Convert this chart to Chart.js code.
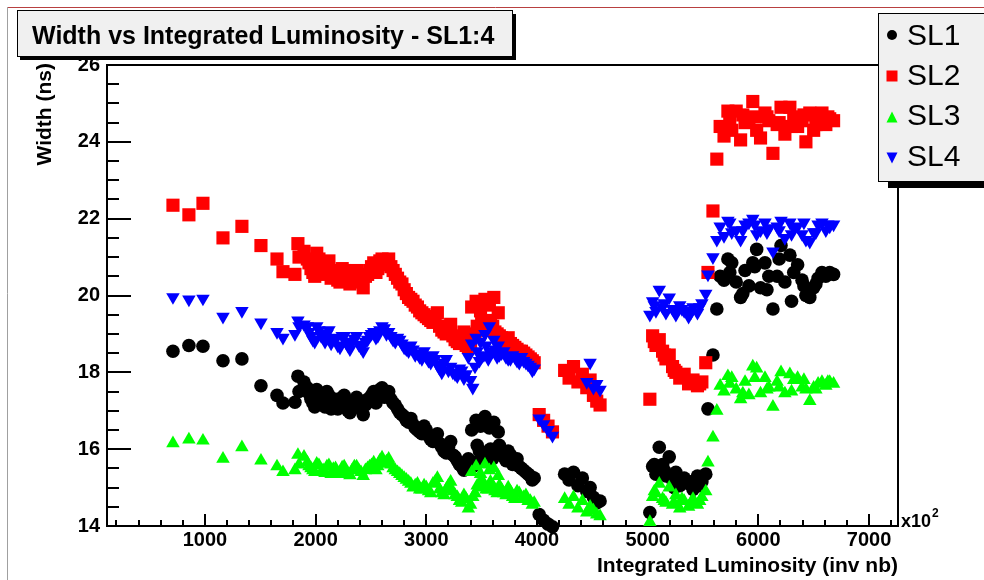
<!DOCTYPE html>
<html>
<head>
<meta charset="utf-8">
<script src="https://cdn.jsdelivr.net/npm/chart.js@4.4.1/dist/chart.umd.min.js"></script>
<style>
  html, body { margin: 0; padding: 0; background: #ffffff; }
  canvas { display: block; }
</style>
</head>
<body>
<canvas id="c" width="984" height="580"></canvas>
<script>
// Integrated luminosity of each run (axis units, x10^2 inv nb)
const lumi = [
  711, 855, 982, 1163, 1334, 1506, 1651, 1705, 1813, 1840, 1850, 1895,
  1940, 1975, 2010, 2050, 2085, 2120, 2160, 2200, 2240, 2275,
  2310, 2350, 2390, 2430, 2470, 2505, 2545, 2580, 2620, 2660,
  2700, 2740, 2780, 2820, 2860, 2900, 2940, 2980, 3020, 3060,
  3100, 3140, 3180, 3220, 3260, 3300, 3340, 3380, 3410, 3420,
  3450, 3460, 3490, 3500, 3530, 3540, 3570, 3580, 3610, 3620,
  3650, 3660, 3700, 3740, 3780, 3820, 3860, 3900, 3940, 3975,
  4020, 4060, 4100, 4140,
  4250, 4290, 4330, 4370, 4410, 4450, 4480, 4510, 4540, 4570,
  5020, 5045, 5075, 5105, 5135, 5165, 5195, 5225, 5255, 5290,
  5330, 5370, 5410, 5450, 5490, 5525,
  5545, 5590, 5625,
  5655, 5690, 5725, 5760, 5800, 5840, 5880, 5915, 5950, 5985,
  6020, 6060, 6095, 6132, 6170, 6205, 6240, 6285, 6320, 6355,
  6395, 6430, 6465, 6500, 6540, 6575, 6610, 6645, 6680,
  // second pass of runs
  1925, 1958, 1992, 2030, 2068, 2102, 2140, 2180, 2220, 2258,
  2292, 2330, 2370, 2410, 2450, 2488, 2525, 2562, 2600, 2640,
  2680, 2720, 2760, 2800, 2840, 2880, 2920, 2960, 3000, 3040,
  3080, 3120, 3160, 3200, 3240, 3280, 3320, 3360, 3400, 3440,
  3480, 3520, 3560, 3600, 3640, 3680, 3720, 3760, 3800, 3840,
  3880, 3920, 3958,
  5060, 5150, 5240, 5310, 5390, 5470,
  5742, 5860, 5968, 6078, 6188, 6300, 6412, 6520, 6628
];

// Width (ns) per superlayer, one value per run (null = off scale)
const sl1 = [
  18.55, 18.70, 18.68, 18.30, 18.35, 17.65, 17.40, 17.20, 17.22, 17.90, 17.50, 17.75,
  17.45, 17.20, 17.55, 17.30, 17.10, 17.40, 17.25, 17.05, 17.35, 17.15,
  16.95, 17.25, 17.10, 16.90, 17.30, 17.40, 17.20, 17.55, 17.35, 17.50,
  17.20, 17.05, 16.90, 16.75, 16.80, 16.55, 16.45, 16.60, 16.35, 16.20,
  16.40, 16.05, 15.90, 16.20, 15.80, 15.60, 15.45, 15.75, 16.50, 15.55,
  16.75, 16.10, 16.60, 15.90, 16.85, 15.70, 16.55, 16.00, 16.70, 15.85,
  16.45, 16.10, 15.80, 15.95, 15.60, 15.75, 15.50, 15.40, 15.30, 15.25,
  14.30, 14.15, 14.05, 13.98,
  15.35, 15.20, 15.40, 15.05, 15.25, 14.90, 15.00, 14.75, 14.60, 14.65,
  14.35, 15.55, 15.35, 16.05, 15.60, 15.30, 15.80, 15.20, 15.40, 15.05,
  15.25, 15.10, 14.95, 15.30, 15.15, 15.35,
  17.05, 18.45, 19.65,
  20.50, 20.40, 20.95, 20.85, 20.35, 19.95, 20.65, 20.25, 20.85, 21.20,
  20.20, 20.85, 20.50, 19.65, 20.50, 21.30, 20.35, 21.05, 20.60, 20.80,
  20.40, 20.00, 19.95, 20.20, 20.45, 20.60, 20.50, 20.60, 20.55,
  17.60, 17.30, 17.10, 17.45, 17.25, 17.50, 17.05, 17.30, 17.20, 17.40,
  17.00, 17.20, 17.35, 17.05, 17.15, 17.25, 17.50, 17.35, 17.60, 17.40,
  17.30, 17.15, 16.95, 16.85, 16.70, 16.65, 16.50, 16.40, 16.50, 16.25,
  16.30, 16.15, 15.95, 16.05, 15.85, 15.70, 15.55, 15.65, 15.50, 15.65,
  15.95, 15.80, 15.95, 15.75, 15.90, 15.95, 15.70, 15.85, 15.65, 15.55,
  15.45, 15.35, 15.20,
  15.60, 15.45, 15.00, 15.20, 15.15, 15.05,
  20.60, 20.05, 20.75, 20.15, 20.95, 19.85, 20.25, 20.30, 20.55
];
const sl2 = [
  22.35, 22.10, 22.40, 21.50, 21.80, 21.30, 20.95, 20.62, 20.55, 21.35, 21.00, 21.15,
  20.85, 20.60, 21.10, 20.75, 20.55, 20.90, 20.65, 20.40, 20.70, 20.50,
  20.30, 20.60, 20.45, 20.20, 20.55, 20.75, 20.60, 20.90, 20.80, 20.95,
  20.65, 20.45, 20.30, 20.05, 19.90, 19.75, 19.60, 19.50, 19.40, 19.30,
  19.55, 19.10, 19.00, 19.25, 18.85, 18.75, 19.05, 18.65, 19.70, 18.95,
  19.85, 19.20, 19.60, 19.30, 19.90, 19.10, 19.75, 19.35, 19.95, 19.05,
  19.55, 18.95, 18.85, 18.90, 18.70, 18.60, 18.55, 18.45, 18.35, 18.25,
  16.90, 16.75, 16.60, 16.45,
  18.05, 17.85, 18.15, 17.75, 17.95, 17.60, 17.80, 17.40, 17.25, 17.15,
  17.30, 18.95, 18.70, 18.85, 18.55, 18.35, 18.45, 18.15, 18.00, 17.85,
  17.95, 17.70, 17.80, 17.65, 17.75, 18.25,
  20.60, 22.20, 23.55,
  24.40, 24.15, 24.80, 24.30, 24.80, 24.05, 24.50, 24.60, 25.05, 24.30,
  24.10, 24.75, 24.55, 23.70, 24.45, 24.90, 24.20, 24.90, 24.65, 24.40,
  24.55, 24.00, 24.75, 24.30, 24.60, 24.75, 24.45, 24.60, 24.55,
  20.95, 20.70, 20.50, 20.95, 20.70, 20.80, 20.45, 20.55, 20.35, 20.65,
  20.40, 20.55, 20.65, 20.35, 20.50, 20.65, 20.85, 20.70, 20.95, 20.85,
  20.75, 20.55, 20.35, 20.15, 19.95, 19.85, 19.70, 19.55, 19.45, 19.35,
  19.45, 19.20, 19.05, 19.15, 18.95, 18.80, 18.90, 18.70, 18.80, 19.00,
  19.15, 19.25, 19.10, 19.20, 19.00, 18.90, 18.80, 18.75, 18.65, 18.55,
  18.50, 18.40, 18.30,
  18.80, 18.45, 18.05, 17.90, 17.75, 17.70,
  24.55, 24.70, 24.65, 24.65, 24.50, 24.40, 24.70, 24.45, 24.65
];
const sl3 = [
  16.15, 16.25, 16.22, 15.75, 16.05, 15.70, 15.55, 15.40, 15.45, 15.85, 15.60, 15.80,
  15.55, 15.45, 15.62, 15.40, 15.38, 15.58, 15.48, 15.35, 15.52, 15.42,
  15.32, 15.55, 15.45, 15.30, 15.50, 15.58, 15.45, 15.70, 15.62, 15.75,
  15.50, 15.40, 15.30, 15.20, 15.10, 15.05, 14.95, 15.05, 14.90, 15.10,
  15.25, 14.85, 14.95, 15.15, 14.80, 14.65, 14.80, 14.45, 15.40, 14.75,
  15.55, 15.05, 15.35, 15.20, 15.60, 14.95, 15.45, 15.15, 15.50, 14.90,
  15.30, 15.05, 14.85, 15.00, 14.75, 14.90, 14.70, 14.80, 14.65, 14.60,
  null, null, null, null,
  14.70, 14.55, 14.75, 14.45, 14.65, 14.35, 14.50, 14.40, 14.30, 14.25,
  14.10, 14.75, 14.85, 15.10, 14.70, 14.60, 15.00, 14.55, 14.80, 14.45,
  14.65, 14.50, 14.70, 14.55, 14.75, 14.90,
  15.65, 16.30, 17.00,
  17.65, 17.50, 17.90, 17.85, 17.55, 17.30, 17.75, 17.40, 18.15, 18.10,
  17.45, 17.85, 17.60, 17.10, 17.75, 18.00, 17.45, 17.95, 17.80, 17.85,
  17.60, 17.55, 17.25, 17.60, 17.70, 17.75, 17.65, 17.75, 17.70,
  15.65, 15.50, 15.40, 15.58, 15.45, 15.55, 15.35, 15.50, 15.40, 15.55,
  15.35, 15.45, 15.55, 15.40, 15.45, 15.55, 15.65, 15.55, 15.78, 15.68,
  15.60, 15.45, 15.35, 15.25, 15.15, 15.00, 15.10, 14.95, 15.00, 14.85,
  15.15, 14.95, 14.80, 15.05, 14.90, 14.75, 14.60, 14.70, 14.55, 14.85,
  15.00, 15.10, 14.95, 15.05, 14.85, 14.95, 14.80, 14.90, 14.70, 14.85,
  14.75, 14.65, 14.55,
  14.90, 14.65, 14.60, 14.70, 14.60, 14.65,
  17.70, 17.45, 17.85, 17.55, 17.60, 17.50, 17.80, 17.55, 17.75
];
const sl4 = [
  19.96, 19.90, 19.92, 19.45, 19.60, 19.30, 19.05, 18.90, 19.00, 19.35, 19.20, 19.25,
  19.05, 18.85, 19.20, 18.95, 18.80, 19.10, 18.90, 18.70, 18.95, 18.78,
  18.60, 18.88, 18.72, 18.55, 18.85, 19.00, 18.90, 19.10, 19.15, 19.05,
  18.85, 18.90, 18.75, 18.60, 18.70, 18.45, 18.40, 18.55, 18.30, 18.45,
  18.20, 18.00, 18.35, 18.15, 17.95, 18.10, 17.85, 18.40, 18.75, 17.60,
  18.90, 18.55, 18.80, 18.40, 19.00, 18.70, 19.20, 18.50, 18.85, 18.60,
  18.70, 18.45, 18.55, 18.35, 18.45, 18.30, 18.40, 18.25, 18.15, 18.10,
  16.80, 16.65, 16.50, 16.35,
  null, null, null, null, null, 17.75, 18.25, 17.60, 17.70, 17.55,
  19.50, 19.85, 19.60, 20.15, 19.70, 19.55, 19.95, 19.65, 19.50, 19.75,
  19.60, 19.45, 19.70, 19.55, 19.80, 20.05,
  20.55, 21.00, 21.45,
  21.80, 21.55, 21.95, 21.65, 21.70, 21.45, 21.85, 21.90, 22.00, 21.60,
  21.70, 21.90, 21.75, 21.15, 21.80, 21.95, 21.50, 21.90, 21.75, 21.80,
  21.60, 21.45, 21.40, 21.65, 21.85, 21.90, 21.70, 21.80, 21.85,
  19.20, 18.95, 18.80, 19.10, 18.90, 19.00, 18.75, 18.85, 18.65, 18.95,
  18.70, 18.80, 18.95, 18.65, 18.80, 18.95, 19.05, 18.95, 19.20, 19.00,
  18.95, 18.80, 18.85, 18.65, 18.55, 18.60, 18.50, 18.35, 18.40, 18.25,
  18.35, 18.10, 18.25, 18.05, 18.00, 17.90, 18.05, 17.95, 17.80, 18.15,
  18.30, 18.45, 18.35, 18.55, 18.40, 18.50, 18.40, 18.35, 18.40, 18.25,
  18.30, 18.20, 18.05,
  19.75, 19.80, 19.60, 19.65, 19.55, 19.70,
  21.90, 21.70, 21.85, 21.65, 21.70, 21.60, 21.90, 21.65, 21.85
];

const seriesNames = ['SL1', 'SL2', 'SL3', 'SL4'];
const xTickValues = [1000, 2000, 3000, 4000, 5000, 6000, 7000];
const yTickValues = [14, 16, 18, 20, 22, 24, 26];

const FONT = '"Liberation Sans", Arial, Helvetica, sans-serif';

const styles = [
  { color: '#000000', pointStyle: 'circle',   radius: 6.8, rotation: 0 },
  { color: '#ff0000', pointStyle: 'rect',     radius: 9.3, rotation: 0 },
  { color: '#00ff00', pointStyle: 'triangle', radius: 7.8, rotation: 0 },
  { color: '#0000ff', pointStyle: 'triangle', radius: 7.8, rotation: 180 }
];

const seriesValues = [sl1, sl2, sl3, sl4];
const datasets = seriesValues.map((vals, k) => ({
  label: seriesNames[k],
  data: lumi.map((x, i) => ({ x: x, y: vals[i] })),
  showLine: false,
  pointStyle: styles[k].pointStyle,
  pointRotation: styles[k].rotation,
  pointRadius: styles[k].radius,
  pointHoverRadius: styles[k].radius,
  pointBackgroundColor: styles[k].color,
  pointBorderWidth: 0,
  pointBorderColor: styles[k].color,
  order: 4 - k,          // later superlayers are painted on top
  clip: false
}));

// small legend marker painter
function marker(ctx, kind, cx, cy, s, color) {
  ctx.fillStyle = color;
  ctx.beginPath();
  if (kind === 0) {
    ctx.arc(cx, cy, s / 2, 0, Math.PI * 2);
  } else if (kind === 1) {
    ctx.rect(cx - s / 2, cy - s / 2, s, s);
  } else if (kind === 2) {
    ctx.moveTo(cx, cy - s / 2);
    ctx.lineTo(cx + s / 2, cy + s / 2);
    ctx.lineTo(cx - s / 2, cy + s / 2);
  } else {
    ctx.moveTo(cx - s / 2, cy - s / 2);
    ctx.lineTo(cx + s / 2, cy - s / 2);
    ctx.lineTo(cx, cy + s / 2);
  }
  ctx.closePath();
  ctx.fill();
}

const rootFrame = {
  id: 'rootFrame',
  beforeDatasetsDraw(chart) {
    const { ctx, chartArea: a, scales } = chart;
    const xs = scales.x, ys = scales.y;
    ctx.save();
    ctx.strokeStyle = '#000';
    ctx.lineWidth = 2;
    ctx.strokeRect(a.left, a.top, a.right - a.left, a.bottom - a.top);
    ctx.beginPath();
    for (let v = 200; v <= 7200; v += 200) {
      const px = Math.round(xs.getPixelForValue(v));
      const len = v % 1000 === 0 ? 12 : 6;
      ctx.moveTo(px, a.bottom);
      ctx.lineTo(px, a.bottom - len);
    }
    for (let v = 14; v <= 26.001; v += 0.5) {
      const py = Math.round(ys.getPixelForValue(v));
      const len = Math.abs(v % 2) < 1e-6 ? 24 : 12;
      ctx.moveTo(a.left, py);
      ctx.lineTo(a.left + len, py);
    }
    ctx.stroke();
    ctx.restore();
  },
  afterDraw(chart) {
    const { ctx, chartArea: a } = chart;
    ctx.save();

    // canvas border lines
    ctx.lineWidth = 1;
    ctx.strokeStyle = '#b84040';
    ctx.beginPath(); ctx.moveTo(7, 7.5); ctx.lineTo(984, 7.5); ctx.stroke();
    ctx.strokeStyle = '#a0a0a0';
    ctx.beginPath(); ctx.moveTo(7.5, 7); ctx.lineTo(7.5, 580); ctx.stroke();

    // title pave
    ctx.fillStyle = '#000';
    ctx.fillRect(20, 14, 496, 46);
    ctx.fillStyle = '#f0f0f0';
    ctx.fillRect(17, 10, 496, 47);
    ctx.strokeStyle = '#000';
    ctx.lineWidth = 1;
    ctx.strokeRect(17.5, 10.5, 495, 46);
    ctx.fillStyle = '#000';
    ctx.font = 'bold 25px ' + FONT;
    ctx.textAlign = 'left';
    ctx.textBaseline = 'alphabetic';
    ctx.fillText('Width vs Integrated Luminosity - SL1:4', 32, 44);

    // legend pave
    ctx.fillStyle = '#000';
    ctx.fillRect(888, 18, 110, 170);
    ctx.fillStyle = '#f0f0f0';
    ctx.fillRect(878, 13, 120, 169);
    ctx.strokeRect(878.5, 13.5, 120, 168);
    const rowsBase = [45, 85, 125, 166];
    const rowsMark = [35, 76, 117, 158];
    ctx.font = '30px ' + FONT;
    for (let k = 0; k < 4; k++) {
      marker(ctx, k, 892, rowsMark[k], k === 0 ? 10 : 11, styles[k].color);
      ctx.fillStyle = '#000';
      ctx.fillText(seriesNames[k], 907, rowsBase[k]);
    }

    // axis titles
    ctx.fillStyle = '#000';
    ctx.font = 'bold 21px ' + FONT;
    ctx.textAlign = 'right';
    ctx.fillText('Integrated Luminosity (inv nb)', a.right, 572);
    ctx.save();
    ctx.translate(51, 63);
    ctx.rotate(-Math.PI / 2);
    ctx.fillText('Width (ns)', 0, 0);
    ctx.restore();

    // axis multiplier
    ctx.textAlign = 'left';
    ctx.font = 'bold 18px ' + FONT;
    ctx.fillText('x10', 901, 527);
    const w = ctx.measureText('x10').width;
    ctx.font = 'bold 12px ' + FONT;
    ctx.fillText('2', 901 + w + 1, 517);

    ctx.restore();
  }
};

new Chart(document.getElementById('c'), {
  type: 'scatter',
  data: { datasets: datasets },
  options: {
    responsive: false,
    animation: false,
    devicePixelRatio: 1,
    layout: { padding: { left: 0, top: 65, right: 86, bottom: 0 } },
    scales: {
      x: {
        type: 'linear',
        min: 115,
        max: 7262,
        afterBuildTicks: s => { s.ticks = xTickValues.map(v => ({ value: v })); },
        afterFit: s => { s.height = 54; },
        grid: { display: false, drawTicks: false },
        border: { display: false },
        ticks: {
          autoSkip: false,
          maxRotation: 0,
          padding: 2,
          color: '#000',
          font: { family: FONT, size: 20, weight: 'bold' },
          callback: v => String(v)
        }
      },
      y: {
        type: 'linear',
        min: 14,
        max: 26,
        afterBuildTicks: s => { s.ticks = yTickValues.map(v => ({ value: v })); },
        afterFit: s => { s.width = 107; },
        grid: { display: false, drawTicks: false },
        border: { display: false },
        ticks: {
          padding: 7,
          color: '#000',
          font: { family: FONT, size: 20, weight: 'bold' },
          callback: v => String(v)
        }
      }
    },
    plugins: {
      legend: { display: false },
      tooltip: { enabled: false },
      title: { display: false }
    }
  },
  plugins: [rootFrame]
});
</script>
</body>
</html>
